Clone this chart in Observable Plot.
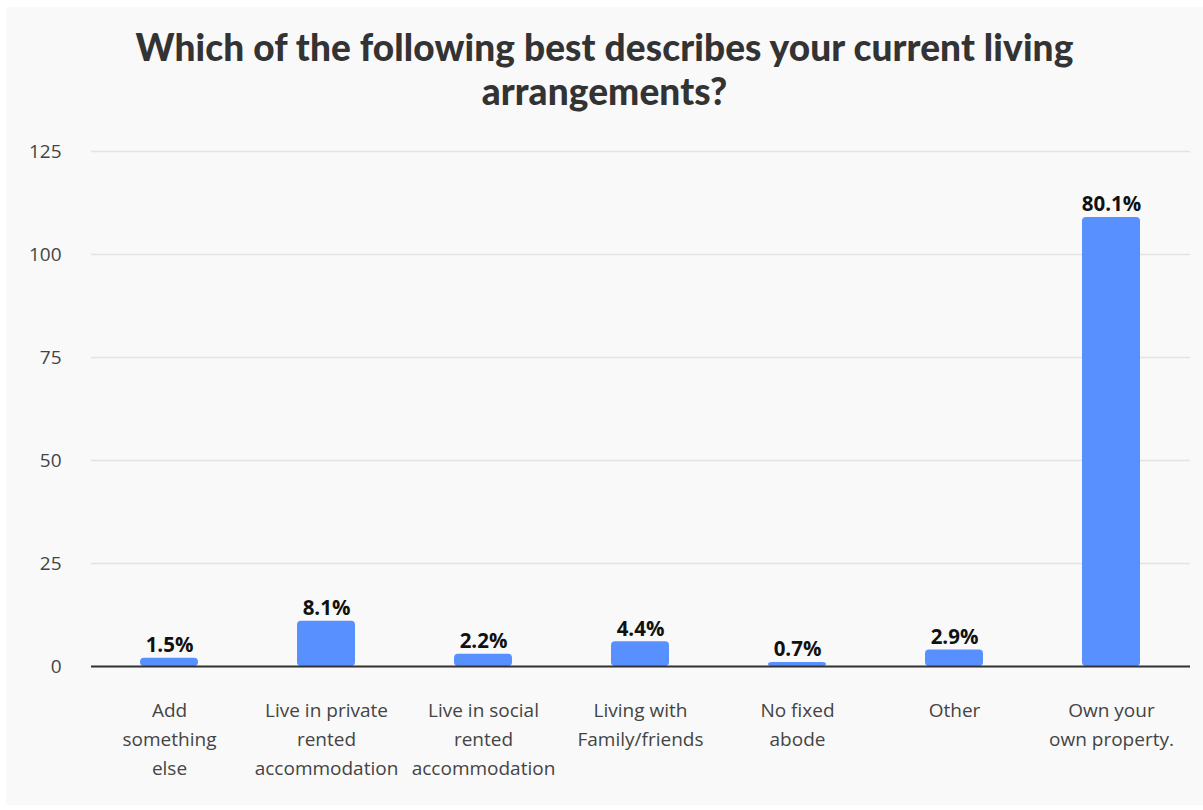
<!DOCTYPE html>
<html>
<head>
<meta charset="utf-8">
<script src="https://cdn.jsdelivr.net/npm/d3@7"></script>
<script src="https://cdn.jsdelivr.net/npm/@observablehq/plot@0.6"></script>
<style>
  html, body { margin: 0; padding: 0; background: #ffffff; }
  #panel {
    position: absolute; left: 6px; top: 7px; width: 1197px; height: 798px;
    background: #f9f9f9; font-family: "Open Sans", "Noto Sans", sans-serif;
  }
  #title {
    margin: 0; padding-top: 18px; height: 110px; box-sizing: border-box;
    text-align: center; font-family: Lato, "Open Sans", sans-serif; font-weight: 900;
    font-size: 37px; line-height: 44px; color: #333333; letter-spacing: 0.1px;
  }
  #chart { position: absolute; left: 0; top: 123px; }
</style>
</head>
<body>
<div id="panel">
  <div id="title">Which of the following best describes your current living<br>arrangements?</div>
  <div id="chart"></div>
</div>
<script>
const categories = [
  "Add something else",
  "Live in private rented accommodation",
  "Live in social rented accommodation",
  "Living with Family/friends",
  "No fixed abode",
  "Other",
  "Own your own property."
];
const tickLabels = [
  "Add\nsomething\nelse",
  "Live in private\nrented\naccommodation",
  "Live in social\nrented\naccommodation",
  "Living with\nFamily/friends",
  "No fixed\nabode",
  "Other",
  "Own your\nown property."
];
const counts = [2, 11, 3, 6, 1, 4, 109];
const percentLabels = ["1.5%", "8.1%", "2.2%", "4.4%", "0.7%", "2.9%", "80.1%"];
const yTicks = [0, 25, 50, 75, 100, 125];

const data = categories.map((c, i) => ({category: c, count: counts[i], label: percentLabels[i]}));
const tickMap = new Map(categories.map((c, i) => [c, tickLabels[i]]));

const chart = Plot.plot({
  width: 1197,
  height: 670,
  marginTop: 21,
  marginLeft: 85,
  marginRight: 13,
  marginBottom: 134,
  style: {background: "transparent", fontFamily: "'Open Sans', 'Noto Sans', sans-serif", fontSize: "19px", color: "#444"},
  x: {domain: categories, paddingInner: 0.63, paddingOuter: 0.315, label: null},
  y: {domain: [0, 125], label: null},
  marks: [
    Plot.gridY(yTicks, {stroke: "#e3e3e3", strokeOpacity: 1, strokeWidth: 1.5}),
    Plot.axisY(yTicks, {tickSize: 0, tickPadding: 30, fontSize: 19, fill: "#444", label: null}),
    Plot.axisX({tickSize: 0, tickPadding: 30, fontSize: 19, fill: "#444", label: null,
      tickFormat: d => tickMap.get(d), lineHeight: 1.53, lineAnchor: "top"}),
    Plot.barY(data, {x: "category", y: "count", fill: "#5890ff", rx: 4}),
    Plot.ruleY([0], {stroke: "#333", strokeWidth: 2}),
    Plot.text(data, {x: "category", y: "count", text: "label", dy: -6, lineAnchor: "bottom",
      fontSize: 20.5, fontWeight: "bold", fill: "#111"})
  ]
});
document.getElementById("chart").appendChild(chart);
</script>
</body>
</html>
